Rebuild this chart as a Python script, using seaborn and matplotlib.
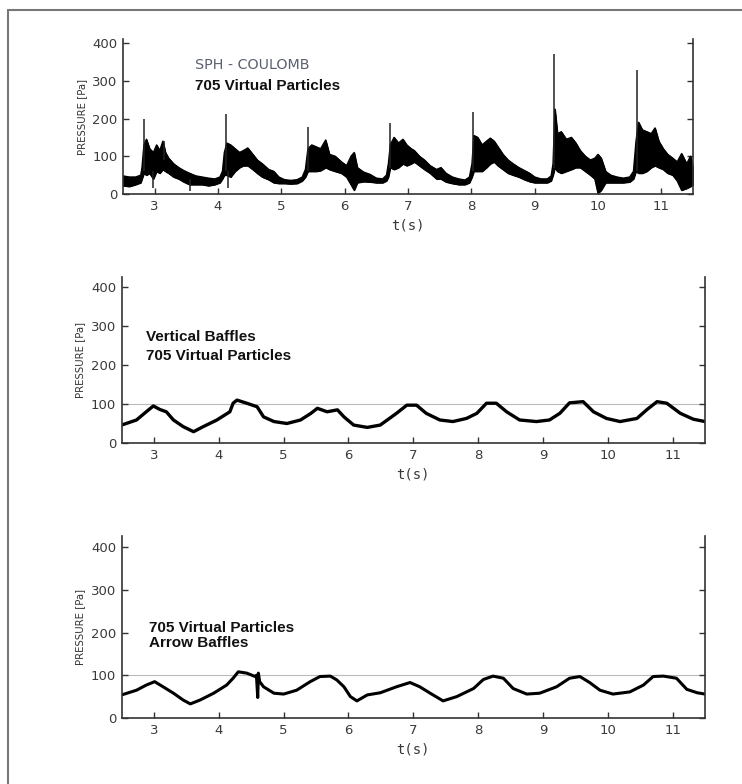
import numpy as np
import pandas as pd
import matplotlib
matplotlib.use("Agg")
import matplotlib.pyplot as plt
from matplotlib.lines import Line2D
import seaborn as sns

# ---- SPH - Coulomb, no baffles: pressure band (lower / upper envelope) ----
t_top = [2.50, 2.60, 2.70, 2.78, 2.80, 2.83, 2.87, 2.92, 2.98, 3.03, 3.08, 3.13, 3.17, 3.22,
         3.30, 3.38, 3.46, 3.55, 3.65, 3.75, 3.85, 3.95, 4.03, 4.07, 4.10, 4.14, 4.20, 4.27,
         4.34, 4.40, 4.47, 4.55, 4.62, 4.70, 4.80, 4.88, 4.96, 5.05, 5.15, 5.25, 5.33, 5.38,
         5.42, 5.48, 5.55, 5.62, 5.70, 5.76, 5.85, 5.95, 6.03, 6.10, 6.15, 6.20, 6.30, 6.40,
         6.50, 6.60, 6.66, 6.69, 6.72, 6.78, 6.85, 6.92, 6.98, 7.05, 7.10, 7.18, 7.26, 7.35,
         7.45, 7.52, 7.60, 7.70, 7.80, 7.90, 7.97, 8.01, 8.04, 8.10, 8.17, 8.24, 8.30, 8.36,
         8.42, 8.50, 8.58, 8.66, 8.75, 8.84, 8.92, 9.00, 9.10, 9.20, 9.26, 9.29, 9.32, 9.36,
         9.42, 9.50, 9.58, 9.65, 9.72, 9.80, 9.88, 9.95, 10.00, 10.05, 10.12, 10.20, 10.30,
         10.40, 10.50, 10.56, 10.60, 10.64, 10.70, 10.77, 10.84, 10.90, 10.96, 11.03, 11.10,
         11.18, 11.25, 11.32, 11.40, 11.46, 11.50]
lo_top = [22, 20, 25, 30, 40, 55, 50, 55, 40, 60, 55, 65, 60, 55,
          45, 40, 32, 25, 25, 25, 22, 25, 30, 40, 50, 50, 45, 60,
          70, 75, 75, 65, 55, 45, 38, 30, 28, 28, 27, 28, 35, 45,
          60, 60, 60, 62, 70, 65, 60, 55, 45, 25, 10, 30, 33, 32,
          30, 30, 35, 45, 70, 65, 70, 80, 75, 80, 85, 75, 65, 55,
          40, 40, 32, 28, 25, 25, 30, 45, 60, 60, 60, 70, 80, 85,
          75, 65, 55, 50, 45, 38, 33, 30, 30, 30, 35, 50, 70, 60,
          55, 60, 65, 70, 70, 60, 50, 40, 2, 10, 30, 30, 30,
          30, 32, 40, 60, 55, 55, 60, 70, 75, 70, 65, 55,
          50, 35, 10, 15, 20, 25]
hi_top = [48, 45, 45, 50, 70, 130, 145, 120, 110, 130, 115, 140, 110, 95,
          80, 70, 62, 55, 48, 45, 42, 40, 45, 60, 110, 135, 130, 120,
          110, 115, 122, 105, 90, 80, 65, 60, 45, 38, 36, 38, 45, 65,
          120, 130, 125, 120, 143, 105, 100, 85, 75, 100, 110, 70, 58, 52,
          42, 40, 50, 80, 130, 150, 135, 145, 130, 120, 115, 100, 90, 75,
          65, 70, 55, 45, 40, 37, 45, 80, 155, 150, 130, 140, 148, 140,
          125, 105, 90, 80, 70, 62, 55, 45, 40, 40, 48, 80, 225, 160,
          165, 145, 150, 135, 115, 100, 90, 95, 105, 95, 60, 50, 45,
          42, 45, 60, 140, 190, 170, 165, 160, 175, 140, 120, 105,
          95, 85, 107, 80, 100, 70]

# isolated sharp pressure peaks / drops (time, from, to)
spike_t = [2.83, 4.12, 5.42, 6.71, 8.03, 9.31, 10.61, 2.98, 3.56, 4.16, 3.15]
spike_lo = [60, 60, 60, 70, 60, 70, 60, 16, 8, 16, 90]
spike_hi = [200, 212, 178, 187, 218, 371, 328, 60, 40, 60, 140]

# ---- Vertical baffles ----
t_vert = [2.50, 2.73, 2.88, 2.99, 3.09, 3.19, 3.30, 3.45, 3.61, 3.76, 3.97, 4.17, 4.22,
          4.28, 4.43, 4.59, 4.69, 4.85, 5.05, 5.26, 5.42, 5.52, 5.67, 5.83, 5.93, 6.08,
          6.29, 6.49, 6.74, 6.90, 7.05, 7.20, 7.41, 7.61, 7.82, 7.98, 8.13, 8.28, 8.44,
          8.64, 8.90, 9.10, 9.26, 9.41, 9.62, 9.78, 9.98, 10.19, 10.45, 10.60, 10.76,
          10.91, 11.12, 11.32, 11.50]
p_vert = [46, 59, 80, 95, 86, 80, 59, 42, 29, 42, 59, 80, 102,
          110, 102, 93, 67, 55, 50, 59, 76, 89, 80, 85, 67, 46,
          40, 46, 76, 97, 97, 76, 59, 55, 63, 76, 102, 102, 80,
          59, 55, 59, 76, 103, 106, 80, 63, 55, 63, 85, 106,
          102, 76, 61, 55]

# ---- Arrow baffles ----
t_arrow = [2.50, 2.73, 2.88, 3.01, 3.14, 3.30, 3.45, 3.56, 3.71, 3.92, 4.12, 4.22, 4.30,
           4.43, 4.56, 4.58, 4.60, 4.61, 4.63, 4.69, 4.85, 5.00, 5.20, 5.41, 5.56, 5.72,
           5.82, 5.93, 6.03, 6.13, 6.29, 6.49, 6.74, 6.95, 7.10, 7.26, 7.46, 7.67, 7.93,
           8.08, 8.23, 8.39, 8.54, 8.75, 8.95, 9.21, 9.41, 9.57, 9.72, 9.88, 10.08, 10.34,
           10.55, 10.70, 10.86, 11.06, 11.22, 11.38, 11.50]
p_arrow = [54, 65, 77, 85, 73, 58, 42, 33, 42, 58, 77, 93, 108,
           105, 97, 100, 48, 105, 85, 73, 58, 56, 65, 85, 97, 98,
           89, 73, 50, 40, 54, 59, 73, 83, 73, 58, 40, 50, 69,
           90, 98, 93, 69, 56, 58, 73, 93, 97, 83, 65, 56, 61,
           77, 97, 98, 93, 67, 59, 56]

x_ticks = [3, 4, 5, 6, 7, 8, 9, 10, 11]
y_ticks = [0, 100, 200, 300, 400]

sns.set_theme(style="ticks")
plt.rcParams["font.family"] = ["DejaVu Sans"]

fig = plt.figure(figsize=(7.42, 7.84), dpi=100)
W, H = 742, 784

BOLD = dict(family="Liberation Sans", weight="bold", color="#111111", fontsize=11,
            va="baseline")


def add_panel(left, right, y0, ytop_px, ymax):
    ax = fig.add_axes([left / W, 1 - y0 / H, (right - left) / W, (y0 - ytop_px) / H])
    ax.set_xlim(2.5, 11.5)
    ax.set_ylim(0, ymax)
    ax.set_xticks(x_ticks)
    ax.set_yticks(y_ticks)
    ax.tick_params(axis="both", direction="in", length=4, width=1, colors="#333333",
                   labelsize=9.5, labelcolor="#3a3a3a", pad=4)
    ax.tick_params(axis="y", right=True, labelright=False)
    ax.spines["top"].set_visible(False)
    for s in ("left", "bottom", "right"):
        ax.spines[s].set_color("#333333")
        ax.spines[s].set_linewidth(1.2)
    ax.set_facecolor("white")
    return ax


def label_axes(ax):
    ax.set_xlabel("t(s)", fontsize=10, color="#3a3a3a", family="DejaVu Sans Mono", labelpad=4)
    ax.set_ylabel("PRESSURE [Pa]", fontsize=7.3, color="#333333", labelpad=4)


# top panel
ax1 = add_panel(123, 693, 194, 194 - 0.3775 * 410, 410)
df_top = pd.DataFrame({"t": t_top, "lo": lo_top, "hi": hi_top})
ax1.fill_between(df_top["t"], df_top["lo"], df_top["hi"], color="black", lw=0.8,
                 edgecolor="black")
sns.lineplot(data=df_top, x="t", y="lo", ax=ax1, color="black", lw=1.0)
sns.lineplot(data=df_top, x="t", y="hi", ax=ax1, color="black", lw=1.0)
ax1.vlines(spike_t, spike_lo, spike_hi, color="#222222", lw=1.1)
label_axes(ax1)
ax1.text(0.126, 0.807, "SPH - COULOMB", transform=ax1.transAxes, fontsize=10.3,
         family="DejaVu Sans", color="#5b6070", va="baseline")
ax1.text(0.126, 0.672, "705 Virtual Particles", transform=ax1.transAxes, **BOLD)

# middle panel
ax2 = add_panel(121.6, 705, 443, 443 - 0.39 * 425, 425)
ax2.axhline(100, color="#bbbbbb", lw=0.8, zorder=0)
df_vert = pd.DataFrame({"t": t_vert, "p": p_vert})
sns.lineplot(data=df_vert, x="t", y="p", ax=ax2, color="black", lw=2.4,
             solid_joinstyle="round")
label_axes(ax2)
ax2.text(0.042, 0.615, "Vertical Baffles", transform=ax2.transAxes, **BOLD)
ax2.text(0.042, 0.500, "705 Virtual Particles", transform=ax2.transAxes, **BOLD)

# bottom panel
ax3 = add_panel(121.6, 705, 718, 718 - 0.4275 * 425, 425)
ax3.axhline(100, color="#bbbbbb", lw=0.8, zorder=0)
df_arrow = pd.DataFrame({"t": t_arrow, "p": p_arrow})
sns.lineplot(data=df_arrow, x="t", y="p", ax=ax3, color="black", lw=2.2,
             solid_joinstyle="round")
label_axes(ax3)
ax3.text(0.047, 0.473, "705 Virtual Particles", transform=ax3.transAxes, **BOLD)
ax3.text(0.047, 0.391, "Arrow Baffles", transform=ax3.transAxes, **BOLD)

# page frame lines
fig.add_artist(Line2D([8 / W, 1], [1 - 10 / H, 1 - 10 / H], color="#777777", lw=1.5))
fig.add_artist(Line2D([8 / W, 8 / W], [0, 1 - 10 / H], color="#777777", lw=1.5))

fig.savefig("out.png", dpi=100, facecolor="white")
